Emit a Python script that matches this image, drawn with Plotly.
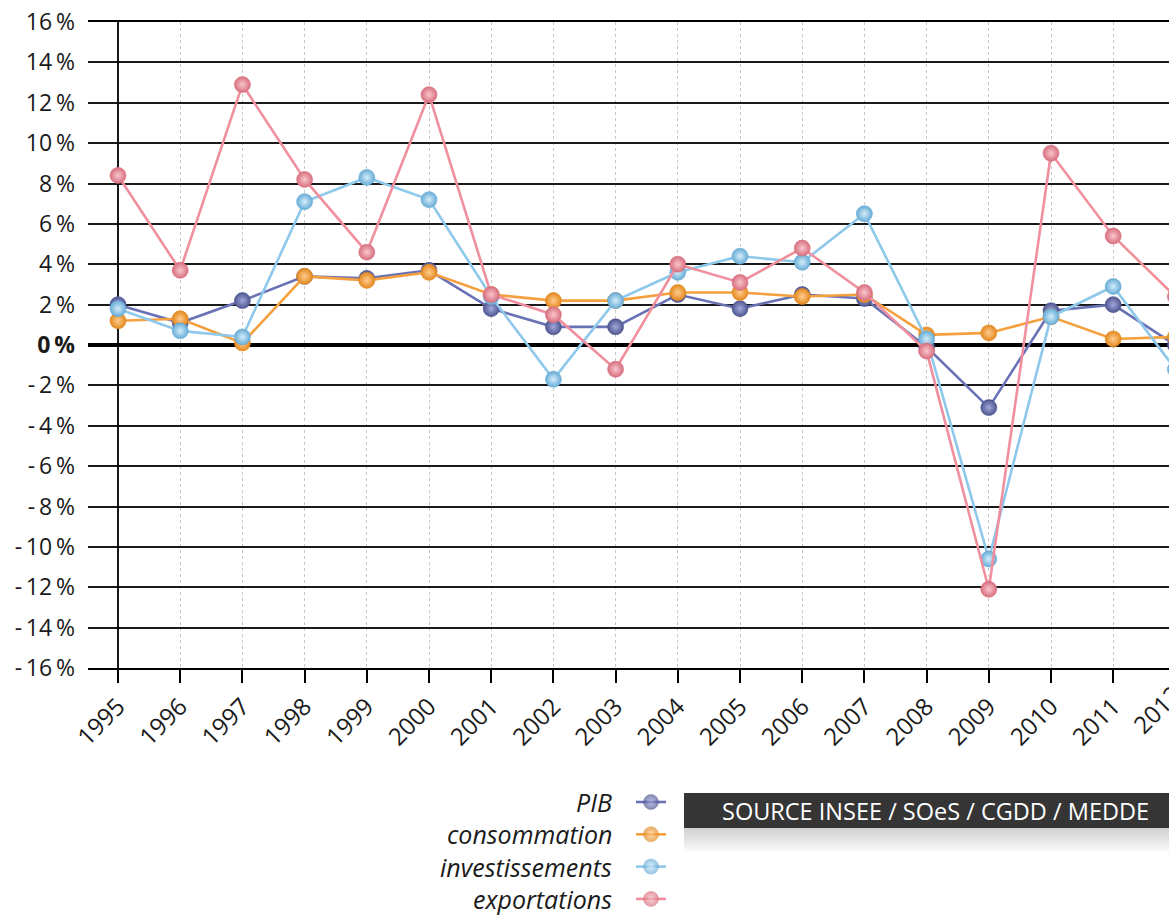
import plotly.graph_objects as go

# ---------------- data ----------------
years = list(range(1995, 2013))
pib = [2.0, 1.1, 2.2, 3.4, 3.3, 3.7, 1.8, 0.9, 0.9, 2.5, 1.8, 2.5, 2.3, -0.1, -3.1, 1.7, 2.0, 0.0]
consommation = [1.2, 1.3, 0.1, 3.4, 3.2, 3.6, 2.5, 2.2, 2.2, 2.6, 2.6, 2.4, 2.5, 0.5, 0.6, 1.4, 0.3, 0.4]
investissements = [1.8, 0.7, 0.4, 7.1, 8.3, 7.2, 2.4, -1.7, 2.2, 3.6, 4.4, 4.1, 6.5, 0.3, -10.6, 1.4, 2.9, -1.2]
exportations = [8.4, 3.7, 12.9, 8.2, 4.6, 12.4, 2.5, 1.5, -1.2, 4.0, 3.1, 4.8, 2.6, -0.3, -12.1, 9.5, 5.4, 2.4]

series_names = ["PIB", "consommation", "investissements", "exportations"]
series_values = [pib, consommation, investissements, exportations]
line_colors = ["#6a72b6", "#f5a03f", "#8ec8ea", "#f0909e"]
marker_dark = ["#4f5590", "#e3891f", "#68acd6", "#d86f7f"]
marker_light = ["#a3a9dc", "#ffcc8e", "#d4edfb", "#f9c6cd"]

y_tick_vals = list(range(-16, 17, 2))
def fmt(v):
    if v == 0:
        return "<b>0\u2009%</b>"
    if v < 0:
        return f"-\u2009{abs(v)}\u2009%"
    return f"{v}\u2009%"
y_tick_text = [fmt(v) for v in y_tick_vals]

source_text = "SOURCE INSEE / SOeS / CGDD / MEDDE"

# ---------------- layout geometry (pixels) ----------------
W, H = 1169, 916
plot_left, plot_top, plot_bottom = 88, 22, 668
x_first_px, x_step_px = 118, 62.2
x_lo = years[0] - (x_first_px - plot_left) / x_step_px
x_hi = years[0] + (W - x_first_px) / x_step_px

FONT = "Open Sans"
TXT = "#1a1a1a"

fig = go.Figure()

for name, vals, lc, md, ml in zip(series_names, series_values, line_colors, marker_dark, marker_light):
    fig.add_trace(go.Scatter(
        x=years, y=vals, name=name, mode="lines+markers",
        line=dict(color=lc, width=2.6),
        marker=dict(size=16, color=md, gradient=dict(type="radial", color=ml),
                    line=dict(width=0.6, color=md)),
        showlegend=False, cliponaxis=True,
    ))

# ---------------- manual legend (symbol to the right of the text) ----------------
leg_text_right = 613
leg_sym_x0, leg_sym_x1 = 636, 666
leg_y0, leg_dy = 802, 32.3
for i, (name, lc, md, ml) in enumerate(zip(series_names, line_colors, marker_dark, marker_light)):
    yc = leg_y0 + i * leg_dy
    fig.add_trace(go.Scatter(
        x=[leg_sym_x0, (leg_sym_x0 + leg_sym_x1) / 2, leg_sym_x1], y=[yc, yc, yc],
        xaxis="x2", yaxis="y2", mode="lines+markers",
        line=dict(color=lc, width=2.6),
        marker=dict(size=[0, 15, 0], color=md, gradient=dict(type="radial", color=ml),
                    line=dict(width=0.6, color=md)),
        showlegend=False, hoverinfo="skip",
    ))
    fig.add_annotation(x=leg_text_right, y=yc, xref="x2", yref="y2", text=f"<i>{name}</i>",
                       showarrow=False, xanchor="right", yanchor="middle", borderpad=0,
                       font=dict(family=FONT, size=25, color=TXT))

# ---------------- source box ----------------
box_x0, box_y0, box_y1 = 684, 793, 828
for k in range(8):
    fig.add_shape(type="rect", xref="x2", yref="y2", x0=box_x0, x1=W,
                  y0=box_y1, y1=box_y1 + 3 * (k + 1),
                  fillcolor="rgba(120,120,120,0.045)", line=dict(width=0), layer="below")
fig.add_shape(type="rect", xref="x2", yref="y2", x0=box_x0, x1=W, y0=box_y0, y1=box_y1,
              fillcolor="#353535", line=dict(width=0))
fig.add_annotation(x=935, y=(box_y0 + box_y1) / 2, xref="x2", yref="y2",
                   text=source_text, showarrow=False, xanchor="center", yanchor="middle",
                   font=dict(family=FONT, size=23.5, color="white"))

# cut-off 2012 tick label at the right edge (as in the reference)
fig.add_annotation(x=1156, y=709, xref="x2", yref="y2", text=str(years[-1]), textangle=-45,
                   showarrow=False, font=dict(family=FONT, size=24, color=TXT))

# vertical axis line at the first year
fig.add_shape(type="line", xref="x", yref="y", x0=years[0], x1=years[0], y0=-16, y1=16,
              line=dict(color="black", width=1.8), layer="between")

fig.update_layout(
    template="none",
    width=W, height=H, margin=dict(l=0, r=0, t=0, b=0, pad=0, autoexpand=False),
    paper_bgcolor="white", plot_bgcolor="rgba(0,0,0,0)",
    xaxis=dict(
        domain=[plot_left / W, 1.0], range=[x_lo, x_hi], automargin=False,
        tickmode="array", tickvals=years, ticktext=[str(y) for y in years],
        tickangle=-45, ticks="outside", ticklen=13, tickwidth=2, tickcolor="black",
        showgrid=True, gridcolor="#c9c9c9", griddash="dot", gridwidth=1,
        showline=True, linecolor="black", linewidth=1.8, mirror=True,
        zeroline=False, anchor="y",
        tickfont=dict(family=FONT, size=24, color=TXT),
    ),
    yaxis=dict(
        domain=[1 - plot_bottom / H, 1 - plot_top / H], range=[-16, 16], automargin=False,
        tickmode="array", tickvals=y_tick_vals, ticktext=y_tick_text,
        showgrid=True, gridcolor="#1a1a1a", gridwidth=1.8,
        zeroline=True, zerolinecolor="black", zerolinewidth=4,
        showline=False, ticks="", ticklabelstandoff=12, anchor="x",
        tickfont=dict(family=FONT, size=23, color=TXT),
    ),
    xaxis2=dict(domain=[0, 1], range=[0, W], visible=False, anchor="y2", fixedrange=True,
                automargin=False),
    yaxis2=dict(domain=[0, 1], range=[H, 0], visible=False, anchor="x2", fixedrange=True,
                automargin=False),
    showlegend=False,
)

fig.write_html(
    "out.html",
    config={"displayModeBar": False},
    post_script="document.body.style.margin='0';document.body.style.overflow='hidden';",
)
